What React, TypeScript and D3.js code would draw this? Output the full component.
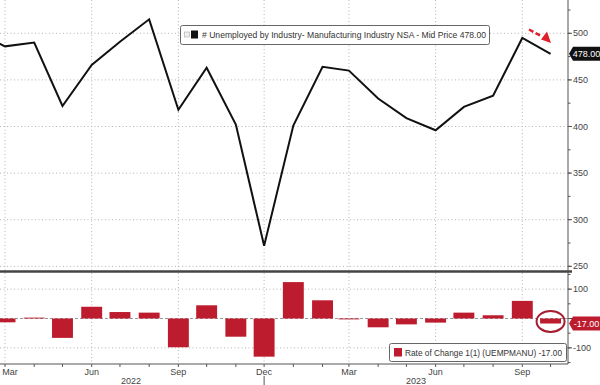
import React from 'react';
import * as d3 from 'd3';

// monthly data, Feb 2022 .. Oct 2023
const months = [
    '2022-02', '2022-03', '2022-04', '2022-05', '2022-06', '2022-07', '2022-08',
    '2022-09', '2022-10', '2022-11', '2022-12', '2023-01', '2023-02', '2023-03',
    '2023-04', '2023-05', '2023-06', '2023-07', '2023-08', '2023-09', '2023-10',
];
const unemployed = [
    500, 486, 490, 422, 466, 491, 515, 418, 463, 402, 272,
    401, 464, 460, 430, 409, 396, 421, 433, 495, 478,
];
// rate of change starts one month later (Mar 2022)
const rateOfChange = [
    -13, 3, -66, 40, 22, 20, -98, 45, -62, -130,
    124, 62, -3, -30, -20, -14, 20, 11, 60, -17,
];
const mainTicks = [250, 300, 350, 400, 450, 500];
const barTicks = [-100, 0, 100];
const quarterLabels = ['Mar', 'Jun', 'Sep', 'Dec'];
const years = ['2022', '2023'];

const W = 600;
const H = 385;
const plotRight = 568;
const mainTop = 0;
const mainBottom = 270;
const barTop = 273;
const barBottom = 364;
const red = '#bd1b2e';
const gridColor = '#b4b4b4';
const font = '"Liberation Sans", Arial, sans-serif';

const parse = d3.timeParse('%Y-%m');

const App = () => {
    const dates = months.map((m) => parse(m) as Date);

    const x = d3
        .scaleTime()
        .domain([new Date(2022, 2, 1), new Date(2023, 8, 1)])
        .range([5, 522.3]);

    const yMain = d3.scaleLinear().domain([250, 500]).range([266.3, 33.3]);
    const yBar = d3.scaleLinear().domain([-155, 155]).range([barBottom, barTop]);

    const line = d3
        .line<number>()
        .x((d, i) => x(dates[i]))
        .y((d) => yMain(d));

    const allMonths = d3.timeMonth.range(new Date(2022, 2, 1), new Date(2023, 10, 1));
    const quarters = allMonths.filter((d) => d.getMonth() % 3 === 2);
    const barDates = dates.slice(1);
    const bw = (x(new Date(2022, 6, 1)) - x(new Date(2022, 5, 1))) * 0.74;

    const mainMinor = d3.range(250, 526, 25);
    const barMinor = d3.range(-150, 151, 50);

    const lastDate = dates[dates.length - 1];
    const lastVal = unemployed[unemployed.length - 1];
    const lastRoc = rateOfChange[rateOfChange.length - 1];
    const tagY1 = yMain(lastVal);
    const tagY2 = yBar(lastRoc);
    const tagPath = (cy: number) =>
        `M569,${cy} L573,${cy - 7} L600,${cy - 7} L600,${cy + 7} L573,${cy + 7} Z`;

    const legend1 = `# Unemployed by Industry- Manufacturing Industry NSA - Mid Price ${lastVal.toFixed(2)}`;
    const legend2 = `Rate of Change 1(1) (UEMPMANU) ${lastRoc.toFixed(2)}`;

    return (
        <svg
            width={W}
            height={H}
            style={{ position: 'absolute', left: 0, top: 0, background: '#fff' }}
            fontFamily={font}
        >
            <defs>
                <clipPath id="mainClip">
                    <rect x={0} y={mainTop} width={plotRight} height={mainBottom - mainTop} />
                </clipPath>
            </defs>

            {/* vertical gridlines */}
            {quarters.map((d, i) => (
                <line key={'vg' + i} x1={x(d)} x2={x(d)} y1={0} y2={barBottom}
                    stroke={gridColor} strokeDasharray="1,2.5" />
            ))}

            {/* horizontal gridlines, main */}
            {mainTicks.map((t) => (
                <line key={'hg' + t} x1={0} x2={plotRight} y1={yMain(t)} y2={yMain(t)}
                    stroke={gridColor} strokeDasharray="1,2.5" />
            ))}

            {/* horizontal gridlines, bars */}
            {barTicks.map((t) => (
                <line key={'bg' + t} x1={0} x2={plotRight} y1={yBar(t)} y2={yBar(t)}
                    stroke={t === 0 ? '#999' : gridColor}
                    strokeDasharray={t === 0 ? '3,2' : '1,2.5'} />
            ))}

            {/* main line */}
            <path d={line(unemployed) || ''} fill="none" stroke="#111" strokeWidth={2}
                strokeLinejoin="miter" clipPath="url(#mainClip)" />

            {/* bars */}
            {rateOfChange.map((v, i) => (
                <rect key={'b' + i}
                    x={x(barDates[i]) - bw / 2}
                    y={Math.min(yBar(v), yBar(0))}
                    width={bw}
                    height={Math.abs(yBar(v) - yBar(0))}
                    fill={red} />
            ))}

            {/* panel separator */}
            <line x1={0} x2={572} y1={271.5} y2={271.5} stroke="#444" strokeWidth={2.5} />

            {/* right axis */}
            <line x1={plotRight} x2={plotRight} y1={0} y2={barBottom} stroke="#555" />
            {mainMinor.map((t) => (
                <line key={'mm' + t} x1={plotRight} x2={plotRight + 2.5} y1={yMain(t)} y2={yMain(t)} stroke="#555" />
            ))}
            {mainTicks.map((t) => (
                <g key={'mt' + t}>
                    <line x1={plotRight} x2={plotRight + 4} y1={yMain(t)} y2={yMain(t)} stroke="#555" />
                    <text x={plotRight + 5} y={yMain(t)} dy="0.35em" fontSize={9} fill="#444">{t}</text>
                </g>
            ))}
            {barMinor.map((t) => (
                <line key={'bm' + t} x1={plotRight} x2={plotRight + 2.5} y1={yBar(t)} y2={yBar(t)} stroke="#555" />
            ))}
            {barTicks.map((t) => (
                <g key={'bt' + t}>
                    <line x1={plotRight} x2={plotRight + 4} y1={yBar(t)} y2={yBar(t)} stroke="#555" />
                    {/* the 0 label sits under the last-value tag */}
                    {t !== 0 && (
                        <text x={plotRight + 5} y={yBar(t)} dy="0.35em" fontSize={9} fill="#444">{t}</text>
                    )}
                </g>
            ))}

            {/* last value tags */}
            <path d={tagPath(tagY1)} fill="#111" />
            <text x={586.5} y={tagY1} dy="0.35em" fontSize={9} fill="#fff" textAnchor="middle">
                {lastVal.toFixed(2)}
            </text>
            <path d={tagPath(tagY2)} fill={red} />
            <text x={586.5} y={tagY2} dy="0.35em" fontSize={9} fill="#fff" textAnchor="middle">
                {lastRoc.toFixed(2)}
            </text>

            {/* bottom axis */}
            <line x1={0} x2={plotRight} y1={barBottom} y2={barBottom} stroke="#555" />
            {allMonths.map((d, i) => (
                <line key={'xt' + i} x1={x(d)} x2={x(d)} y1={barBottom} y2={barBottom + 3} stroke="#555" />
            ))}
            {quarters.map((d, i) => (
                <text key={'xl' + i} x={Math.max(x(d), 10)} y={375} textAnchor="middle" fontSize={9} fill="#444">
                    {quarterLabels[i % 4]}
                </text>
            ))}
            <line x1={x(new Date(2022, 11, 1))} x2={x(new Date(2022, 11, 1))} y1={376} y2={H} stroke="#555" />
            <text x={131} y={384} textAnchor="middle" fontSize={9} fill="#444">{years[0]}</text>
            <text x={416} y={384} textAnchor="middle" fontSize={9} fill="#444">{years[1]}</text>

            {/* top legend */}
            <rect x={180.5} y={25.5} width={309} height={19} rx={2} fill="#fff" stroke="#666" />
            <rect x={184.5} y={32} width={5} height={5} fill="#eee" stroke="#aaa" strokeWidth={0.6} />
            <rect x={191} y={30.5} width={7} height={8} fill="#111" />
            <text x={202} y={35} dy="0.35em" fontSize={9} fill="#333" textLength={284} lengthAdjust="spacingAndGlyphs">
                {legend1}
            </text>

            {/* bottom legend */}
            <rect x={389.5} y={343.5} width={177} height={18} rx={2} fill="#fff" stroke="#666" />
            <rect x={394} y={348} width={8} height={8.5} fill={red} />
            <text x={405} y={352.5} dy="0.35em" fontSize={9} fill="#333" textLength={157} lengthAdjust="spacingAndGlyphs">
                {legend2}
            </text>

            {/* annotations */}
            <line x1={529} y1={29.5} x2={541} y2={36} stroke="#e0202a" strokeWidth={2.5} strokeDasharray="5,2.5" />
            <path d="M541,39.5 L547,31.5 L551,43 Z" fill="#e0202a" />
            <ellipse cx={x(lastDate)} cy={tagY2 - 2} rx={14} ry={10.5} fill="none" stroke="#a51c30" strokeWidth={2} />
        </svg>
    );
};

export default App;
